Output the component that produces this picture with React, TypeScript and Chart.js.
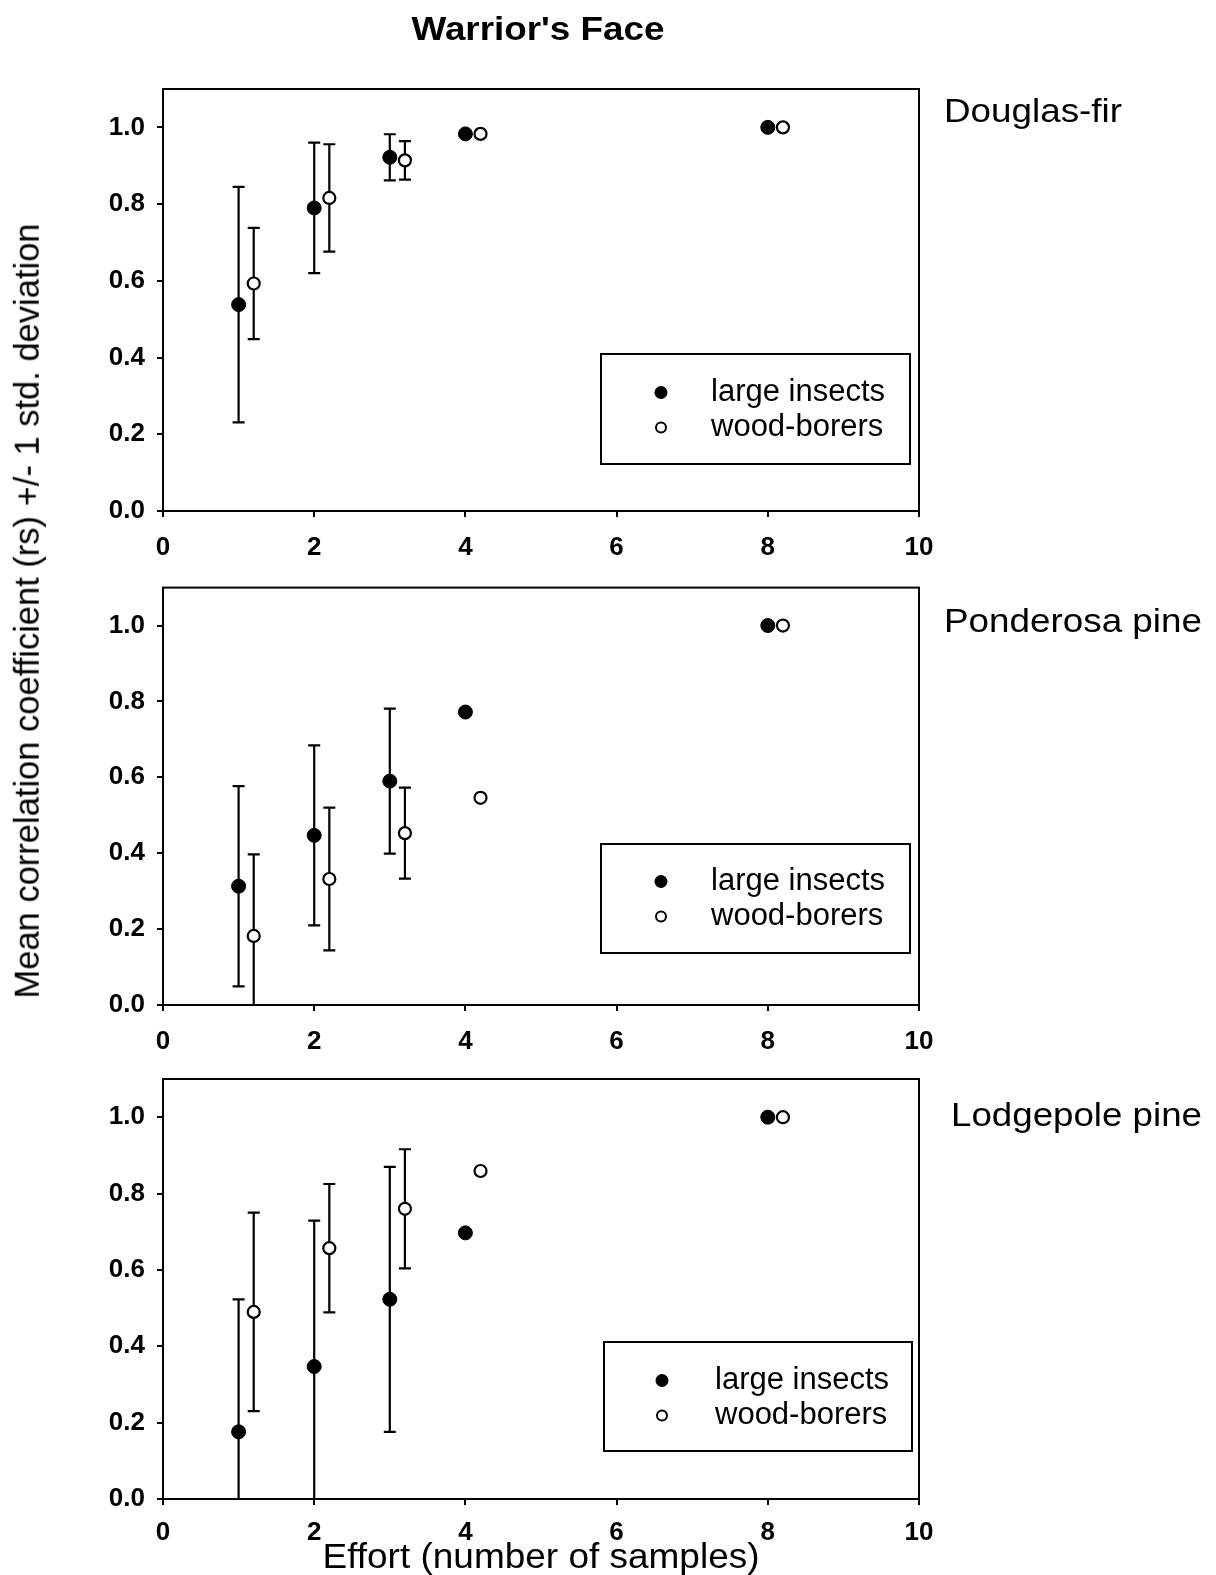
import React, { useEffect, useRef } from 'react';
import { Chart, registerables } from 'chart.js';

Chart.register(...registerables);

// ---------------- data ----------------
const effortLarge = [1, 2, 3, 4, 8];
const effortWood = [1.2, 2.2, 3.2, 4.2, 8.2];
const xTickValues = [0, 2, 4, 6, 8, 10];
const yTickValues = [0, 0.2, 0.4, 0.6, 0.8, 1.0];

const seriesNames = ['large insects', 'wood-borers'];
const panelNames = ['Douglas-fir', 'Ponderosa pine', 'Lodgepole pine'];
const chartTitle = "Warrior's Face";
const xAxisTitle = 'Effort (number of samples)';
const yAxisTitle = 'Mean correlation coefficient (rs) +/- 1 std. deviation';

const douglasLargeMean = [0.538, 0.79, 0.922, 0.983, 1.0];
const douglasLargeSd = [0.307, 0.17, 0.06, 0, 0];
const douglasWoodMean = [0.593, 0.816, 0.914, 0.983, 1.0];
const douglasWoodSd = [0.145, 0.14, 0.05, 0, 0];

const ponderosaLargeMean = [0.313, 0.447, 0.59, 0.772, 1.0];
const ponderosaLargeSd = [0.264, 0.237, 0.191, 0, 0];
const ponderosaWoodMean = [0.182, 0.332, 0.453, 0.546, 1.0];
const ponderosaWoodSd = [0.215, 0.188, 0.12, 0, 0];

const lodgepoleLargeMean = [0.176, 0.347, 0.523, 0.697, 1.0];
const lodgepoleLargeSd = [0.347, 0.382, 0.347, 0, 0];
const lodgepoleWoodMean = [0.49, 0.657, 0.76, 0.859, 1.0];
const lodgepoleWoodSd = [0.26, 0.168, 0.156, 0, 0];

// ---------------- layout ----------------
const FONT = "'Liberation Sans', Arial, Helvetica, sans-serif";
const W = 1216;
const AREA_LEFT = 163;
const AREA_RIGHT = 919;

const panels = [
  {
    name: panelNames[0], largeMean: douglasLargeMean, largeSd: douglasLargeSd,
    woodMean: douglasWoodMean, woodSd: douglasWoodSd,
    canvasTop: 0, height: 560, areaTop: 89, areaBottom: 511, tickPad: 15,
    legend: { left: 601, top: 354, right: 910, bottom: 464, markerX: 661, textX: 711, rows: [392.5, 427.5] },
    label: { x: 944, y: 122, width: 178 },
    title: true, xTitle: false,
  },
  {
    name: panelNames[1], largeMean: ponderosaLargeMean, largeSd: ponderosaLargeSd,
    woodMean: ponderosaWoodMean, woodSd: ponderosaWoodSd,
    canvasTop: 560, height: 490, areaTop: 27, areaBottom: 445, tickPad: 15,
    legend: { left: 601, top: 284, right: 910, bottom: 393, markerX: 661, textX: 711, rows: [321.5, 356.5] },
    label: { x: 944, y: 72, width: 258 },
    title: false, xTitle: false,
  },
  {
    name: panelNames[2], largeMean: lodgepoleLargeMean, largeSd: lodgepoleLargeSd,
    woodMean: lodgepoleWoodMean, woodSd: lodgepoleWoodSd,
    canvasTop: 1050, height: 525, areaTop: 29, areaBottom: 449, tickPad: 12,
    legend: { left: 604, top: 292, right: 912, bottom: 401, markerX: 662, textX: 715, rows: [330.5, 365.5] },
    label: { x: 951, y: 76, width: 251 },
    title: false, xTitle: true,
  },
];

function drawStretched(ctx: CanvasRenderingContext2D, text: string, x: number, y: number, font: string, width: number, align: 'left' | 'center') {
  ctx.save();
  ctx.font = font;
  ctx.textBaseline = 'alphabetic';
  ctx.textAlign = 'left';
  const w = ctx.measureText(text).width;
  const sx = width / w;
  const x0 = align === 'center' ? x - width / 2 : x;
  ctx.translate(x0, y);
  ctx.scale(sx, 1);
  ctx.fillStyle = '#000';
  ctx.fillText(text, 0, 0);
  ctx.restore();
}

const errorBarPlugin = {
  id: 'errorBars',
  beforeDatasetsDraw(chart: any) {
    const { ctx, chartArea, scales } = chart;
    const xs = scales.x;
    const ys = scales.y;
    ctx.save();
    ctx.beginPath();
    ctx.rect(chartArea.left, chartArea.top, chartArea.right - chartArea.left, chartArea.bottom - chartArea.top);
    ctx.clip();
    ctx.strokeStyle = '#000';
    ctx.lineWidth = 2.2;
    chart.data.datasets.forEach((ds: any) => {
      ds.data.forEach((p: any, i: number) => {
        const sd = ds.sd[i];
        if (!sd) return;
        const px = xs.getPixelForValue(p.x);
        const top = ys.getPixelForValue(p.y + sd);
        const bot = ys.getPixelForValue(p.y - sd);
        ctx.beginPath();
        ctx.moveTo(px, top);
        ctx.lineTo(px, bot);
        ctx.moveTo(px - 6, top);
        ctx.lineTo(px + 6, top);
        ctx.moveTo(px - 6, bot);
        ctx.lineTo(px + 6, bot);
        ctx.stroke();
      });
    });
    ctx.restore();
  },
};

const decorPlugin = {
  id: 'decor',
  afterDraw(chart: any) {
    const cfg = chart.options.plugins.decor;
    if (!cfg) return;
    const { ctx, chartArea } = chart;
    ctx.save();
    // frame
    ctx.strokeStyle = '#000';
    ctx.lineWidth = 2;
    ctx.strokeRect(chartArea.left, chartArea.top, chartArea.right - chartArea.left, chartArea.bottom - chartArea.top);
    // legend
    const lg = cfg.legend;
    ctx.fillStyle = '#fff';
    ctx.fillRect(lg.left, lg.top, lg.right - lg.left, lg.bottom - lg.top);
    ctx.lineWidth = 2;
    ctx.strokeRect(lg.left, lg.top, lg.right - lg.left, lg.bottom - lg.top);
    ctx.beginPath();
    ctx.arc(lg.markerX, lg.rows[0], 6.5, 0, Math.PI * 2);
    ctx.fillStyle = '#000';
    ctx.fill();
    ctx.beginPath();
    ctx.arc(lg.markerX, lg.rows[1], 5, 0, Math.PI * 2);
    ctx.fillStyle = '#fff';
    ctx.fill();
    ctx.lineWidth = 2;
    ctx.stroke();
    ctx.fillStyle = '#000';
    ctx.font = `31px ${FONT}`;
    ctx.textAlign = 'left';
    ctx.textBaseline = 'middle';
    ctx.fillText(seriesNames[0], lg.textX, lg.rows[0]);
    ctx.fillText(seriesNames[1], lg.textX, lg.rows[1]);
    ctx.restore();
    // panel label
    drawStretched(ctx, cfg.name, cfg.label.x, cfg.label.y, `33px ${FONT}`, cfg.label.width, 'left');
    if (cfg.title) {
      drawStretched(ctx, chartTitle, 538, 40, `bold 34px ${FONT}`, 253, 'center');
    }
    if (cfg.xTitle) {
      drawStretched(ctx, xAxisTitle, 541, 518, `35px ${FONT}`, 437, 'center');
    }
  },
};

function buildChart(canvas: HTMLCanvasElement, p: any) {
  const tickFont = { family: FONT, size: 26, weight: 'bold' as const };
  return new Chart(canvas, {
    type: 'scatter',
    data: {
      datasets: [
        {
          label: seriesNames[0],
          data: effortLarge.map((x, i) => ({ x, y: p.largeMean[i] })),
          sd: p.largeSd,
          pointRadius: 7,
          pointBackgroundColor: '#000',
          pointBorderColor: '#000',
          pointBorderWidth: 1,
          showLine: false,
        } as any,
        {
          label: seriesNames[1],
          data: effortWood.map((x, i) => ({ x, y: p.woodMean[i] })),
          sd: p.woodSd,
          pointRadius: 6,
          pointBackgroundColor: '#fff',
          pointBorderColor: '#000',
          pointBorderWidth: 2.2,
          showLine: false,
        } as any,
      ],
    },
    options: {
      animation: false,
      responsive: false,
      maintainAspectRatio: false,
      events: [],
      layout: { padding: { left: 0, right: W - AREA_RIGHT, top: p.areaTop, bottom: 0 } },
      plugins: {
        legend: { display: false },
        tooltip: { enabled: false },
        title: { display: false },
        decor: {
          name: p.name,
          legend: p.legend,
          label: p.label,
          title: p.title,
          xTitle: p.xTitle,
        },
      } as any,
      scales: {
        x: {
          type: 'linear',
          min: 0,
          max: 10,
          afterFit: (s: any) => { s.height = p.height - p.areaBottom; },
          afterBuildTicks: (s: any) => { s.ticks = xTickValues.map((v) => ({ value: v })); },
          ticks: {
            font: tickFont,
            color: '#000',
            padding: p.tickPad,
            maxRotation: 0,
            autoSkip: false,
            callback: (v: any) => String(v),
          },
          grid: { display: true, drawOnChartArea: false, drawTicks: true, tickLength: 6, color: '#000', lineWidth: 2 },
          border: { display: true, color: '#000', width: 2 },
        },
        y: {
          type: 'linear',
          min: 0,
          max: 1.1,
          afterFit: (s: any) => { s.width = AREA_LEFT; },
          afterBuildTicks: (s: any) => { s.ticks = yTickValues.map((v) => ({ value: v })); },
          ticks: {
            font: tickFont,
            color: '#000',
            padding: 12,
            autoSkip: false,
            callback: (v: any) => Number(v).toFixed(1),
          },
          grid: { display: true, drawOnChartArea: false, drawTicks: true, tickLength: 6, color: '#000', lineWidth: 2 },
          border: { display: true, color: '#000', width: 2 },
        },
      },
    } as any,
    plugins: [errorBarPlugin, decorPlugin],
  });
}

function Panel({ p }: { p: any }) {
  const ref = useRef<HTMLCanvasElement>(null);
  useEffect(() => {
    if (!ref.current) return;
    const chart = buildChart(ref.current, p);
    return () => chart.destroy();
  }, [p]);
  return (
    <canvas
      ref={ref}
      width={W}
      height={p.height}
      style={{ position: 'absolute', left: 0, top: p.canvasTop, width: W, height: p.height, display: 'block' }}
    />
  );
}

export default function App() {
  return (
    <div style={{ position: 'absolute', left: 0, top: 0, width: W, height: 1575, background: '#fff', overflow: 'hidden' }}>
      {panels.map((p) => (
        <Panel key={p.name} p={p} />
      ))}
      <div
        style={{
          position: 'absolute',
          left: 27,
          top: 611,
          transform: 'translate(-50%, -50%) rotate(-90deg)',
          fontFamily: FONT,
          fontSize: '34.5px',
          lineHeight: 1,
          whiteSpace: 'nowrap',
          color: '#000',
        }}
      >
        {yAxisTitle}
      </div>
    </div>
  );
}
